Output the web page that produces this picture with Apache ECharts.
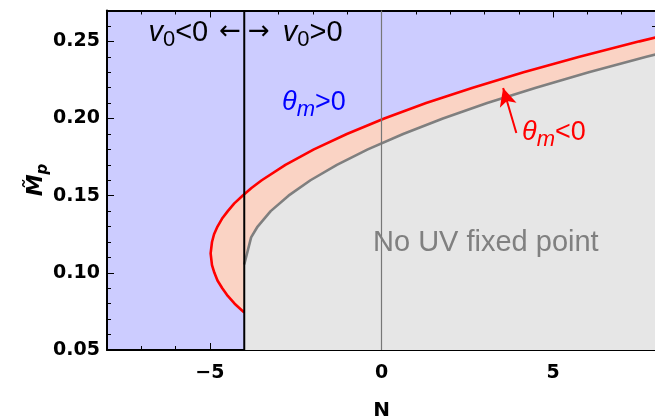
<!DOCTYPE html>
<html>
<head>
<meta charset="utf-8">
<script src="https://cdn.jsdelivr.net/npm/echarts/dist/echarts.min.js"></script>
<style>
  html, body { margin: 0; padding: 0; background: #fff; }
  #root { width: 655px; height: 420px; }
</style>
</head>
<body>
<div id="root"></div>
<script>
// 红线: theta_m = 0 边界 (N, M_p)，沿曲线顺序
var redN = [-4.00, -4.28, -4.48, -4.64, -4.78, -4.87, -4.94, -4.98, -4.94, -4.88, -4.78, -4.65, -4.48, -4.29,
  -4.05, -3.79, -3.49, -2.80, -1.97, -1.01, 0.08, 1.30, 2.66, 4.14, 5.77, 7.52, 8.00];
var redM = [0.0743, 0.080, 0.085, 0.090, 0.095, 0.100, 0.105, 0.1126, 0.120, 0.125, 0.130, 0.135, 0.140, 0.145,
  0.150, 0.155, 0.160, 0.170, 0.180, 0.190, 0.200, 0.210, 0.220, 0.230, 0.240, 0.250, 0.2526];
// 灰线: 无UV不动点边界
var grayN = [-4.00, -3.80, -3.61, -3.23, -2.71, -2.07, -1.30, -0.40, 0.63, 1.79, 3.08, 4.50, 6.04, 7.72, 8.00];
var grayM = [0.1054, 0.1230, 0.130, 0.140, 0.150, 0.160, 0.170, 0.180, 0.190, 0.200, 0.210, 0.220, 0.230, 0.240, 0.2416];
// 竖线位置
var v0Boundary = -4;
var nZero = 0;
// 坐标轴
var xMin = -8, xMax = 8;
var yMin = 0.05, yMax = 0.27;
var xLabelValues = [-5, 0, 5];
// 箭头 (theta_m<0)
var arrowFrom = [3.93, 0.1906];
var arrowTo = [3.545, 0.2198];

var pairs = function(xs, ys) {
  return xs.map(function(x, i) { return [x, ys[i]]; });
};

function renderRegions(params, api) {
  var red = pairs(redN, redM).map(function(p) { return api.coord(p); });
  var grayPts = pairs(grayN, grayM).map(function(p) { return api.coord(p); });
  var salmon = red.concat(grayPts.slice().reverse());
  var grayArea = grayPts.concat([api.coord([xMax, yMin]), api.coord([v0Boundary, yMin])]);
  return {
    type: 'group',
    children: [
      {type: 'polygon', shape: {points: salmon}, style: {fill: '#fad3c4'}},
      {type: 'polygon', shape: {points: grayArea}, style: {fill: '#e6e6e6'}}
    ]
  };
}

var minus = function(v) {
  return v < 0 ? '\u2212' + (-v) : String(v);
};

var tickColor = '#000';
var baseX = {
  type: 'value', min: xMin, max: xMax, interval: 1,
  axisLine: {show: false, onZero: false},
  splitLine: {show: false},
  axisLabel: {show: false},
  axisTick: {inside: true, length: 4, lineStyle: {color: tickColor, width: 1}}
};
function xAxisOf(extra) {
  return Object.assign({}, baseX, extra);
}

// graphic 里的富文本用 fill 上色
var subRich = function(color, size) {
  return {
    n: {fontFamily: 'Liberation Sans', fontSize: size, lineHeight: 36, fill: color},
    al: {fontFamily: 'DejaVu Sans', fontSize: 26, lineHeight: 36, fill: color, padding: [0, 0, 0, 11]},
    ar: {fontFamily: 'DejaVu Sans', fontSize: 26, lineHeight: 36, fill: color, padding: [0, 13, 0, 0]},
    i: {fontFamily: 'Liberation Sans', fontStyle: 'italic', fontSize: size, lineHeight: 36, fill: color},
    s: {fontFamily: 'Liberation Sans', fontSize: 22, lineHeight: 20, verticalAlign: 'bottom', fill: color},
    si: {fontFamily: 'Liberation Sans', fontStyle: 'italic', fontSize: 22, lineHeight: 20, verticalAlign: 'bottom', fill: color}
  };
};

var option = {
  animation: false,
  grid: {
    left: 107, right: -1, top: 10.5, bottom: 70,
    outerBoundsMode: 'none',
    show: true, backgroundColor: '#ccccff', borderWidth: 0
  },
  xAxis: [
    xAxisOf({
      position: 'bottom',
      axisLine: {show: true, onZero: false, lineStyle: {color: '#000', width: 2}},
      axisTick: {inside: true, length: 7, customValues: xLabelValues, lineStyle: {color: tickColor, width: 1}},
      axisLabel: {
        show: true, customValues: xLabelValues, margin: 14,
        fontFamily: 'DejaVu Sans', fontWeight: 'bold', fontSize: 19, color: '#000',
        formatter: minus
      },
      name: 'N', nameLocation: 'middle', nameGap: 51,
      nameTextStyle: {fontFamily: 'DejaVu Sans', fontWeight: 'bold', fontSize: 20, color: '#000'}
    }),
    xAxisOf({position: 'bottom'}),
    xAxisOf({position: 'top', axisLine: {show: true, onZero: false, lineStyle: {color: '#000', width: 2}}}),
    xAxisOf({position: 'top', axisTick: {inside: true, length: 7, customValues: xLabelValues, lineStyle: {color: tickColor}}})
  ],
  yAxis: [
    {
      type: 'value', min: yMin, max: yMax, interval: 0.05, position: 'left',
      axisLine: {show: true, onZero: false, lineStyle: {color: '#000', width: 2}},
      axisTick: {inside: true, length: 7, lineStyle: {color: tickColor}},
      minorTick: {show: true, splitNumber: 5, length: 4, lineStyle: {color: tickColor}},
      splitLine: {show: false},
      axisLabel: {
        margin: 7, showMaxLabel: false,
        fontFamily: 'DejaVu Sans', fontWeight: 'bold', fontSize: 19, color: '#000',
        formatter: function(v) { return v.toFixed(2); }
      }
    },
    {
      type: 'value', min: yMin, max: yMax, interval: 0.05, position: 'right',
      axisLine: {show: true, onZero: false, lineStyle: {color: '#000', width: 2}},
      axisTick: {inside: true, length: 7, lineStyle: {color: tickColor}},
      minorTick: {show: true, splitNumber: 5, length: 4, lineStyle: {color: tickColor}},
      splitLine: {show: false},
      axisLabel: {show: false}
    }
  ],
  series: [
    {
      name: 'regions',
      type: 'custom',
      renderItem: renderRegions,
      clip: true,
      silent: true,
      z: 1,
      data: [[0, 0.1]]
    },
    {
      name: 'gray',
      type: 'line',
      showSymbol: false,
      silent: true,
      z: 3,
      lineStyle: {color: '#7f7f7f', width: 2.6},
      data: pairs(grayN, grayM)
    },
    {
      name: 'red',
      type: 'line',
      showSymbol: false,
      silent: true,
      z: 4,
      lineStyle: {color: '#ff0000', width: 2.6},
      data: pairs(redN, redM),
      markLine: {
        silent: true,
        symbol: ['none', 'arrow'],
        symbolSize: [13, 18],
        label: {show: false},
        lineStyle: {color: '#ff0000', width: 2, type: 'solid'},
        data: [[{coord: arrowFrom}, {coord: arrowTo}]]
      }
    },
    {
      name: 'n0',
      type: 'line',
      showSymbol: false,
      silent: true,
      z: 5,
      lineStyle: {color: '#777', width: 1.2},
      data: [[nZero, yMin], [nZero, yMax]]
    },
    {
      name: 'v0',
      type: 'line',
      showSymbol: false,
      silent: true,
      z: 6,
      lineStyle: {color: '#000', width: 2},
      data: [[v0Boundary, yMin], [v0Boundary, yMax]]
    }
  ],
  graphic: [
    {
      type: 'text', x: 241, y: 32.5, z: 10,
      style: {
        text: '{i|v}{s|0}{n|<0}{al|\u2190}',
        rich: subRich('#000', 29), align: 'right', verticalAlign: 'middle'
      }
    },
    {
      type: 'text', x: 248, y: 32.5, z: 10,
      style: {
        text: '{ar|\u2192}{i|v}{s|0}{n|>0}',
        rich: subRich('#000', 29), align: 'left', verticalAlign: 'middle'
      }
    },
    {
      type: 'text', x: 282, y: 102.5, z: 10,
      style: {
        text: '{i|\u03b8}{si|m}{n|>0}',
        rich: subRich('#0000ff', 27), align: 'left', verticalAlign: 'middle'
      }
    },
    {
      type: 'text', x: 522, y: 132.5, z: 10,
      style: {
        text: '{i|\u03b8}{si|m}{n|<0}',
        rich: subRich('#ff0000', 27), align: 'left', verticalAlign: 'middle'
      }
    },
    {
      type: 'text', x: 373, y: 242.5, z: 10,
      style: {
        text: 'No UV fixed point',
        fontFamily: 'Liberation Sans', fontSize: 29, fill: '#808080',
        align: 'left', verticalAlign: 'middle'
      }
    },
    {
      type: 'text', x: 36, y: 180, z: 10, rotation: Math.PI / 2,
      style: {
        text: '{m|M\u0303}{p|p}',
        rich: {
          m: {fontFamily: 'DejaVu Sans', fontWeight: 'bold', fontStyle: 'italic', fontSize: 22, lineHeight: 30, fill: '#000'},
          p: {fontFamily: 'DejaVu Sans', fontWeight: 'bold', fontStyle: 'italic', fontSize: 15, lineHeight: 16, verticalAlign: 'bottom', fill: '#000'}
        },
        align: 'center', verticalAlign: 'middle'
      }
    }
  ]
};

var myChart = echarts.init(document.getElementById('root'));
myChart.setOption(option);
</script>
</body>
</html>
